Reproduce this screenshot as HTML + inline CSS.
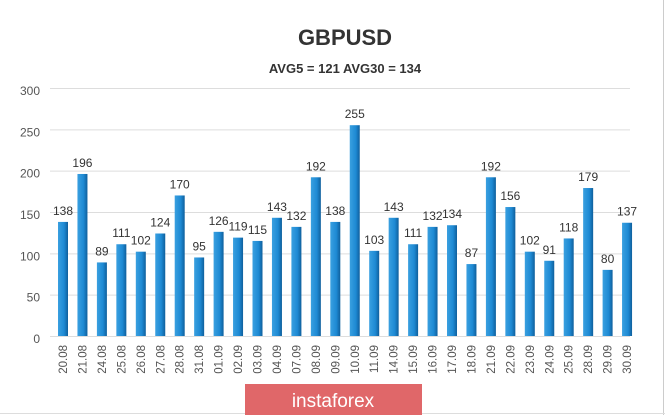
<!DOCTYPE html><html><head><style>body{margin:0;width:665px;height:415px;overflow:hidden;background:#fff}</style></head><body>
<svg width="665" height="415" xmlns="http://www.w3.org/2000/svg" font-family="Liberation Sans, sans-serif">
<defs><linearGradient id="g" x1="0" x2="1"><stop offset="0" stop-color="#3aa0e0"/><stop offset="0.6" stop-color="#1e8ad4"/><stop offset="1" stop-color="#0f5f9c"/></linearGradient></defs>
<rect x="0" y="0" width="665" height="415" fill="#fff"/>
<line x1="663.5" y1="0" x2="663.5" y2="415" stroke="#ccc"/>
<line x1="0" y1="413.5" x2="665" y2="413.5" stroke="#ddd"/>
<text x="345" y="45" text-anchor="middle" font-size="22" font-weight="bold" fill="#333">GBPUSD</text>
<text x="345" y="73" text-anchor="middle" font-size="13" font-weight="bold" fill="#333">AVG5 = 121 AVG30 = 134</text>
<g id="grid" stroke="#ddd" stroke-width="1"></g>
<g id="yl" font-size="12" fill="#555" text-anchor="end"></g>
<g id="bars"></g>
<rect x="245" y="384" width="177" height="31" fill="#e06769"/>
<text x="333" y="407" text-anchor="middle" font-size="19" fill="#fff">instaforex</text>
<script>
var ns="http://www.w3.org/2000/svg";
function el(p,t,a,txt){var e=document.createElementNS(ns,t);for(var k in a)e.setAttribute(k,a[k]);if(txt!=null)e.textContent=txt;document.getElementById(p).appendChild(e);return e;}
var y0=336,s=248/300;
for(var v=0;v<=300;v+=50){var y=y0-v*s;el("grid","line",{x1:50,x2:630,y1:y+0.5,y2:y+0.5});el("yl","text",{x:40,y:y+7},v);}
var d=[138,196,89,111,102,124,170,95,126,119,115,143,132,192,138,255,103,143,111,132,134,87,192,156,102,91,118,179,80,137];
var l=["20.08","21.08","24.08","25.08","26.08","27.08","28.08","31.08","01.09","02.09","03.09","04.09","07.09","08.09","09.09","10.09","11.09","14.09","15.09","16.09","17.09","18.09","21.09","22.09","23.09","24.09","25.09","28.09","29.09","30.09"];
for(var i=0;i<30;i++){var x=58+i*19.45,h=d[i]*s,y=y0-h;
el("bars","rect",{x:x,y:y,width:10,height:h,fill:"url(#g)"});
el("bars","text",{x:x+5,y:y-7,"text-anchor":"middle","font-size":"12",fill:"#333"},d[i]);
var cx=x+9,cy=345;el("bars","text",{x:cx,y:cy,"text-anchor":"end","font-size":"11.5",fill:"#555",transform:"rotate(-90 "+cx+" "+cy+")"},l[i]);}
</script>
</svg></body></html>
